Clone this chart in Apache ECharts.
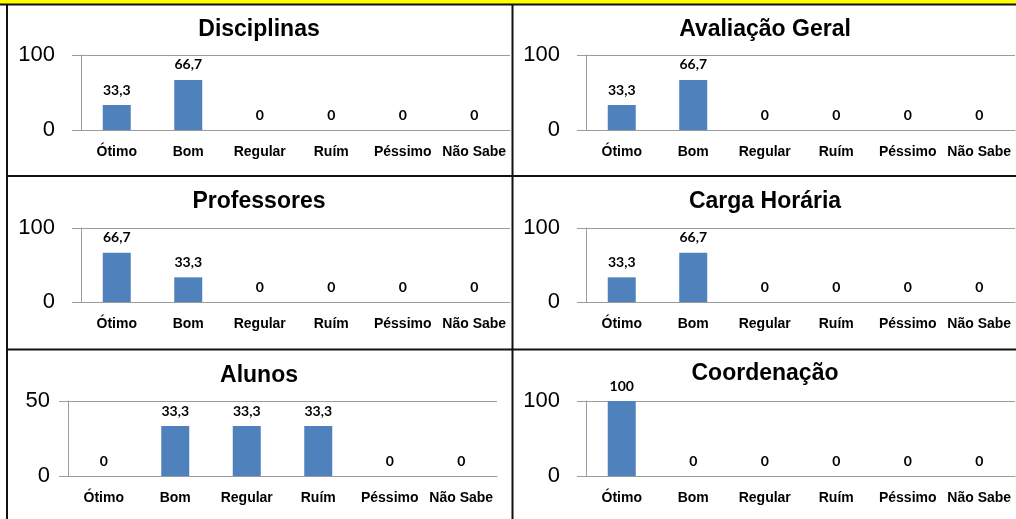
<!DOCTYPE html>
<html>
<head>
<meta charset="utf-8">
<script src="https://cdn.jsdelivr.net/npm/echarts@6/dist/echarts.min.js"></script>
<style>
  html, body { margin: 0; padding: 0; background: #fff; }
  #chart { width: 1016px; height: 519px; }
</style>
</head>
<body>
<div id="chart"></div>
<script>
// categorias e percentuais de cada painel
const categories = ['Ótimo', 'Bom', 'Regular', 'Ruím', 'Péssimo', 'Não Sabe']
const disciplinas = [33.3, 66.7, 0, 0, 0, 0]
const avaliacaoGeral = [33.3, 66.7, 0, 0, 0, 0]
const professores = [66.7, 33.3, 0, 0, 0, 0]
const cargaHoraria = [33.3, 66.7, 0, 0, 0, 0]
const alunos = [0, 33.3, 33.3, 33.3, 0, 0]
const coordenacao = [100, 0, 0, 0, 0, 0]
const titles = ['Disciplinas', 'Avaliação Geral', 'Professores', 'Carga Horária', 'Alunos', 'Coordenação']
const axisMax = [100, 100, 100, 100, 50, 100]

const seriesData = [disciplinas, avaliacaoGeral, professores, cargaHoraria, alunos, coordenacao]

// layout of each panel: plot box + title centre
const panels = [
  { left: 81, top: 55, height: 75, titleX: 259, titleY: 18, labelMargin: 26 },
  { left: 586, top: 55, height: 75, titleX: 765, titleY: 18, labelMargin: 26 },
  { left: 81, top: 228, height: 74, titleX: 259, titleY: 190, labelMargin: 26 },
  { left: 586, top: 228, height: 74, titleX: 765, titleY: 190, labelMargin: 26 },
  { left: 68, top: 401, height: 75, titleX: 259, titleY: 364, labelMargin: 18 },
  { left: 586, top: 401, height: 75, titleX: 765, titleY: 362, labelMargin: 26 }
]

const gray = '#9c9c9c'
const chart = echarts.init(document.getElementById('chart'))

chart.setOption({
  animation: false,
  backgroundColor: '#fff',
  title: panels.map((p, i) => ({
    text: titles[i],
    left: p.titleX,
    top: p.titleY,
    textAlign: 'center',
    padding: 0,
    textStyle: { fontFamily: 'Liberation Sans', fontWeight: 'bold', fontSize: 23, color: '#000' }
  })),
  grid: panels.map(p => ({ left: p.left, top: p.top, width: 429, height: p.height })),
  xAxis: panels.map((p, i) => ({
    type: 'category',
    gridIndex: i,
    data: categories,
    axisLine: { lineStyle: { color: gray } },
    axisTick: { length: 5, lineStyle: { color: gray } },
    axisLabel: {
      color: '#000', fontFamily: 'Liberation Sans', fontWeight: 'bold', fontSize: 14,
      margin: 15, interval: 0
    }
  })),
  yAxis: panels.map((p, i) => ({
    type: 'value',
    gridIndex: i,
    min: 0,
    max: axisMax[i],
    interval: axisMax[i],
    axisLine: { show: true, lineStyle: { color: gray } },
    axisTick: { show: true, length: 9, lineStyle: { color: gray } },
    splitLine: { lineStyle: { color: gray } },
    axisLabel: { color: '#000', fontFamily: 'Liberation Sans', fontSize: 22, margin: p.labelMargin }
  })),
  series: seriesData.map((d, i) => ({
    type: 'bar',
    xAxisIndex: i,
    yAxisIndex: i,
    data: d,
    barWidth: 28,
    itemStyle: { color: '#4F81BD' },
    label: {
      show: true,
      position: 'top',
      distance: 8,
      color: '#000',
      fontFamily: 'Lato',
      fontWeight: 'bold',
      fontSize: 14,
      formatter: v => String(v.value).replace('.', ',')
    }
  })),
  graphic: [
    { type: 'rect', shape: { x: 0, y: 0, width: 1016, height: 4 }, style: { fill: '#FFFF00' } },
    { type: 'line', shape: { x1: 0, y1: 4.5, x2: 1016, y2: 4.5 }, style: { stroke: '#111', lineWidth: 2 } },
    { type: 'line', shape: { x1: 7, y1: 4, x2: 7, y2: 519 }, style: { stroke: '#111', lineWidth: 2 } },
    { type: 'line', shape: { x1: 512.5, y1: 4, x2: 512.5, y2: 519 }, style: { stroke: '#111', lineWidth: 2 } },
    { type: 'line', shape: { x1: 6, y1: 176, x2: 1016, y2: 176 }, style: { stroke: '#111', lineWidth: 2 } },
    { type: 'line', shape: { x1: 6, y1: 349.5, x2: 1016, y2: 349.5 }, style: { stroke: '#111', lineWidth: 2 } }
  ]
})
</script>
</body>
</html>
